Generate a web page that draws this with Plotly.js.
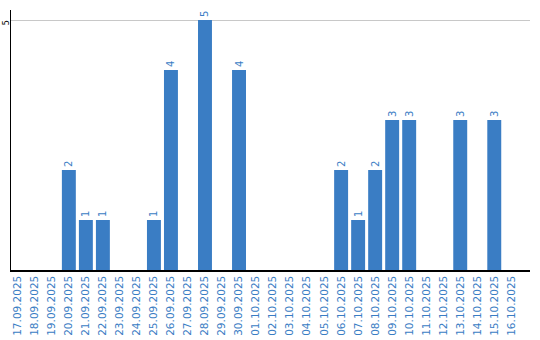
<!DOCTYPE html>
<html><head><meta charset="utf-8">
<script src="https://cdn.plot.ly/plotly-3.0.1.min.js"></script>
<style>html,body{margin:0;padding:0;background:#fff}#c{width:540px;height:340px}</style>
</head><body><div id="c"></div>
<script>
const categories = ["17.09.2025","18.09.2025","19.09.2025","20.09.2025","21.09.2025","22.09.2025","23.09.2025","24.09.2025","25.09.2025","26.09.2025","27.09.2025","28.09.2025","29.09.2025","30.09.2025","01.10.2025","02.10.2025","03.10.2025","04.10.2025","05.10.2025","06.10.2025","07.10.2025","08.10.2025","09.10.2025","10.10.2025","11.10.2025","12.10.2025","13.10.2025","14.10.2025","15.10.2025","16.10.2025"];
const values = [0,0,0,2,1,1,0,0,1,4,0,5,0,4,0,0,0,0,0,2,1,2,3,3,0,0,3,0,3,0];
const labels = values.map(v => v > 0 ? String(v) : "");
const blue = "#3a7dc4";
Plotly.newPlot("c", [{
  type: "bar", x: categories, y: values, marker: {color: blue},
  text: labels, textposition: "outside", textangle: -90, cliponaxis: false,
  textfont: {family: "DejaVu Sans", size: 10, color: blue}, hoverinfo: "none"
}], {
  width: 540, height: 340,
  margin: {l: 11, r: 10, t: 10, b: 70},
  paper_bgcolor: "#fff", plot_bgcolor: "#fff",
  bargap: 0.18, showlegend: false,
  xaxis: {type: "category", range: [-0.4, 30.1], tickangle: -90,
    tickfont: {family: "DejaVu Sans", size: 10.5, color: blue},
    showline: true, linecolor: "#000", linewidth: 1.5, ticks: "", showgrid: false, automargin: false},
  yaxis: {range: [0, 5.2], tickvals: [5], ticktext: ["5"], tickangle: -90, ticklabelstandoff: -3, ticklabelshift: 4,
    tickfont: {family: "DejaVu Sans", size: 8, color: "#000"}, showline: true, linecolor: "#000", linewidth: 1.5,
    gridcolor: "#c8c8c8", gridwidth: 1, zeroline: false, ticks: "", automargin: false}
}, {staticPlot: true});
</script></body></html>
